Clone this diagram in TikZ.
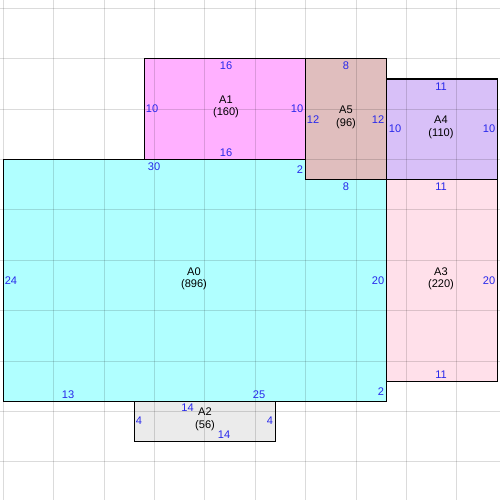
\documentclass[tikz,border=0pt]{standalone}
\usepackage{fontspec}
\setmainfont{Liberation Sans}
\definecolor{cA0}{RGB}{176,255,255}
\definecolor{cA1}{RGB}{255,176,255}
\definecolor{cA2}{RGB}{235,235,235}
\definecolor{cA3}{RGB}{255,224,234}
\definecolor{cA4}{RGB}{216,192,248}
\definecolor{cA5}{RGB}{224,190,190}
\definecolor{elab}{RGB}{40,40,235}
\tikzset{
  room/.style={draw=black, line width=0.75pt},
  gridline/.style={draw=black, draw opacity=0.14, line width=0.6pt},
  elabel/.style={inner sep=0pt, text=elab, font=\fontsize{6.3}{7.4}\selectfont},
  clabel/.style={inner sep=0pt, align=center, text=black, font=\fontsize{6.3}{7.1}\selectfont},
}
\begin{document}
\begin{tikzpicture}[x=0.02cm, y=-0.02cm]
\useasboundingbox (0,0) rectangle (500,500);
\clip (0,0) rectangle (500,500);
% fills
\fill[cA0] (3.3,159.5) -- (305.7,159.5) -- (305.7,179.7) -- (386.3,179.7) -- (386.3,401.4) -- (3.3,401.4) -- cycle;
\fill[cA1] (144.4,58.7) rectangle (305.7,159.5);
\fill[cA5] (305.7,58.7) rectangle (386.3,179.7);
\fill[cA4] (386.3,78.9) rectangle (497.2,179.7);
\fill[cA3] (386.3,179.7) rectangle (497.2,381.3);
\fill[cA2] (134.3,401.4) rectangle (275.5,441.7);
% grid
\foreach \k in {0,...,9} {
  \draw[gridline] ({3.3+50.4*\k},0) -- ({3.3+50.4*\k},500);
  \draw[gridline] (0,{8.3+50.4*\k}) -- (500,{8.3+50.4*\k});
}
% borders
\draw[room] (3.3,159.5) -- (305.7,159.5) -- (305.7,179.7) -- (386.3,179.7) -- (386.3,401.4) -- (3.3,401.4) -- cycle;
\draw[room] (144.4,58.7) rectangle (305.7,159.5);
\draw[room] (305.7,58.7) rectangle (386.3,179.7);
\draw[room] (386.3,78.9) rectangle (497.2,179.7);
\draw[room] (386.3,179.7) rectangle (497.2,381.3);
\draw[room] (134.3,401.4) rectangle (275.5,441.7);
% centre labels
\node[clabel] (cA0) at (194,279) {A0\\(896)};
\node[clabel] (cA1) at (226,107) {A1\\(160)};
\node[clabel] (cA2) at (205,419.5) {A2\\(56)};
\node[clabel] (cA3) at (441,279) {A3\\(220)};
\node[clabel] (cA4) at (441,127.5) {A4\\(110)};
\node[clabel] (cA5) at (346,117.5) {A5\\(96)};
% edge labels A1
\node[elabel] (a1t) at (226,66) {16};
\node[elabel] (a1b) at (226,153) {16};
\node[elabel] (a1l) at (152,109) {10};
\node[elabel] (a1r) at (297,109) {10};
% A5
\node[elabel] (a5t) at (346,66) {8};
\node[elabel] (a5l) at (313,120) {12};
\node[elabel] (a5r) at (378,120) {12};
% A4
\node[elabel] (a4t) at (441,87) {11};
\node[elabel] (a4l) at (395,129) {10};
\node[elabel] (a4r) at (489,129) {10};
% A3
\node[elabel] (a3t) at (441,187) {11};
\node[elabel] (a3r) at (489,281) {20};
\node[elabel] (a3b) at (441,375) {11};
% A0
\node[elabel] (a0t) at (154,167) {30};
\node[elabel] (a0l) at (11,281) {24};
\node[elabel] (a0s) at (300,170) {2};
\node[elabel] (a0e) at (346,187) {8};
\node[elabel] (a0r) at (378,281) {20};
\node[elabel] (a0q) at (381,392) {2};
\node[elabel] (a0b) at (259,395) {25};
\node[elabel] (a0c) at (68,395) {13};
% A2
\node[elabel] (a2t) at (187.5,408) {14};
\node[elabel] (a2b) at (224,435) {14};
\node[elabel] (a2l) at (139,421) {4};
\node[elabel] (a2r) at (270,421) {4};
\end{tikzpicture}
\end{document}
